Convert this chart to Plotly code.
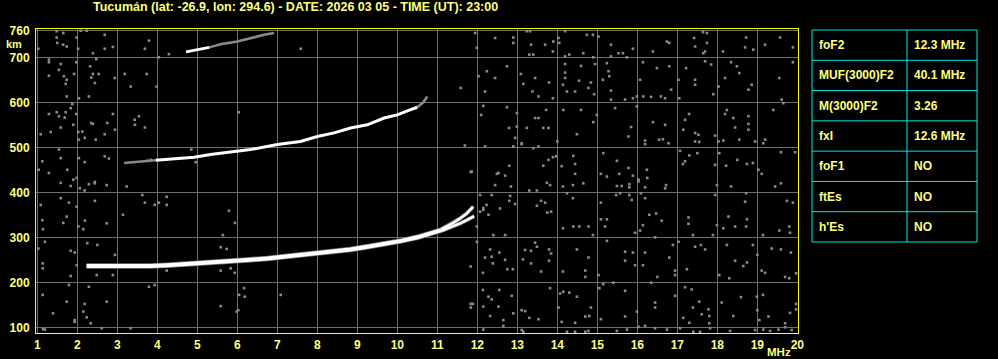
import plotly.graph_objects as go

# ---------------- data ----------------
title_text = "Tucumán (lat: -26.9, lon: 294.6) - DATE: 2026 03 05 - TIME (UT): 23:00"
freq_ticks = list(range(1, 21))
height_ticks = [100, 200, 300, 400, 500, 600, 700, 760]

# first-hop F2 echo (MHz, km)
f2_freq = [2.23, 2.6, 3.0, 3.4, 3.83, 4.25, 4.67, 5.1, 5.5, 5.9, 6.33, 6.75, 7.17, 7.6, 8.0,
           8.4, 8.83, 9.25, 9.67, 10.1, 10.5, 10.92, 11.1]
f2_height = [236, 235.5, 235, 235.5, 236, 238, 240, 242, 244, 247, 250, 253, 257, 260, 263,
             268, 273, 279, 285, 292, 300, 311, 316]
# split near the critical frequency (two magneto-ionic branches)
f2_upper_freq = [11.1, 11.4, 11.57, 11.735, 11.9]
f2_upper_height = [318, 332, 342, 353, 368]
f2_lower_freq = [11.1, 11.4, 11.57, 11.735, 11.92]
f2_lower_height = [314, 324, 331, 338, 347]

# second-hop echo
hop2_freq = [3.96, 4.5, 4.92, 5.33, 5.92, 6.33, 7.0, 7.58, 8.0, 8.42, 8.83, 9.25, 9.67, 10.0, 10.25, 10.5]
hop2_height = [471, 475, 478, 484, 491, 495, 506, 513, 524, 532, 543, 550, 565, 572, 581, 589]
hop2_faint_start_freq = [3.17, 3.5, 3.96]
hop2_faint_start_height = [465, 468, 471]
hop2_faint_end_freq = [10.5, 10.65, 10.75]
hop2_faint_end_height = [589, 600, 613]

# third-hop echo
hop3_freq = [4.72, 5.04, 5.3]
hop3_height = [712, 717, 722]
hop3_faint_freq = [5.3, 5.58, 6.0, 6.17, 6.67, 6.92]
hop3_faint_height = [722, 729, 735, 739, 750, 754]

# scattered noise returns (MHz, km)
noise_freq = [
    11.945, 11.99, 12.445, 12.90, 12.90, 13.24, 13.32, 13.345, 13.30, 13.40, 13.695, 13.90, 13.89, 14.03, 14.05,
    14.195, 14.195, 14.30, 14.65, 14.74, 14.89, 15.03, 14.90, 15.34, 15.34, 15.53, 15.64, 15.74, 15.89, 16.39,
    16.74, 16.80, 17.42, 17.445, 17.64, 17.74, 17.74, 17.695, 17.65, 18.14, 18.72, 18.695, 18.90, 19.195, 19.57, 19.89,
    12.03, 12.24, 12.445, 12.74, 12.195, 13.09, 13.15, 13.38, 13.445, 13.53, 13.795, 13.89, 14.195, 14.195, 14.195,
    14.14, 14.24, 14.445, 14.595, 14.545, 14.84, 14.78, 14.92, 14.945, 15.24, 15.28, 15.30, 15.14, 15.34, 15.34,
    15.695, 15.89, 15.99, 16.14, 16.07, 16.15, 16.345, 16.49, 16.59, 16.695, 16.80, 16.845, 17.03, 17.05, 17.22,
    17.445, 17.445, 17.695, 17.845, 17.90, 18.03, 18.195, 18.345, 18.49, 18.55, 18.78, 18.86, 19.55, 19.61, 19.65, 19.89,
    12.15, 12.095, 12.74, 12.99, 12.99, 12.795, 12.945, 13.11, 13.24, 13.445, 13.53, 13.65, 13.78, 13.72, 14.00,
    14.15, 14.49, 14.59, 14.90, 14.99, 15.445, 15.845, 15.78, 15.99, 16.39, 16.695, 16.195, 16.195, 16.545, 16.64,
    16.78, 17.15, 17.195, 17.295, 17.445, 17.53, 17.445, 17.55, 17.945, 18.03, 18.15, 18.24, 18.195, 18.40, 18.445,
    18.55, 18.78, 18.78, 18.78, 18.945, 19.195, 19.15, 19.40,
    12.195, 12.90, 13.40, 13.53, 13.11, 13.78, 13.89, 13.97, 13.65, 14.11, 14.40, 14.445, 14.445, 12.49, 12.53,
    12.695, 12.80, 15.15, 15.49, 15.78, 15.89, 16.24, 16.03, 16.25, 15.09, 15.24, 15.55, 17.07, 17.195, 17.30,
    17.50, 17.14, 17.945, 18.05, 18.22, 18.50, 18.74, 18.89, 19.03, 19.11, 19.59, 19.945, 11.86,
    12.445, 12.84, 13.30, 13.49, 13.74, 13.82, 14.14, 14.39, 14.65, 15.49, 15.61, 15.80, 15.80, 16.03, 16.195,
    16.72, 16.695, 17.99, 18.345, 19.445, 19.59,
    12.07, 12.36, 12.82, 12.945, 12.80, 13.49, 13.595, 13.695, 13.75, 13.845, 14.24, 14.39, 15.09, 15.47, 15.57,
    15.80, 15.86, 16.09, 16.195, 16.30, 16.47, 17.28, 17.945, 18.695, 18.72, 19.74, 19.89,
    12.15, 12.28, 12.57, 11.99, 12.40, 12.695, 14.14, 14.40, 14.55, 14.78, 14.89, 15.09, 15.24, 15.195, 15.945,
    16.07, 16.14, 16.445, 16.61, 17.28, 17.39, 17.99, 17.89, 18.15, 18.28, 18.445, 18.74, 18.72, 19.14, 19.55,
    19.80, 19.82,
    11.99, 12.32, 12.55, 12.36, 12.39, 12.195, 12.14, 12.695, 12.75, 12.89, 13.195, 13.34, 13.445, 13.49, 13.345,
    13.14, 13.595, 13.795, 13.845, 13.795, 14.49, 14.14, 14.70, 14.78, 14.70, 15.03, 15.24, 15.695, 15.695, 15.89,
    15.945, 16.14, 16.195, 16.50, 16.80, 16.89, 16.945, 16.945, 17.03, 17.24, 17.445, 17.59, 17.695, 18.05, 18.24,
    18.30, 18.445, 18.65, 18.74, 18.89, 19.00, 19.11, 19.195, 19.36, 19.59, 19.84, 19.695, 19.97, 19.80,
    12.14, 12.28, 12.36, 12.55, 12.86, 12.15, 11.89, 12.53, 12.32, 12.65, 12.90, 13.11, 13.195, 13.30, 13.53,
    13.82, 14.07, 14.15, 14.30, 14.49, 14.03, 14.11, 14.445, 14.70, 14.80, 14.84, 15.05, 15.15, 15.40, 15.695,
    15.99, 15.09, 15.695, 16.345, 16.445, 16.445, 16.945, 17.195, 17.36, 17.55, 17.39, 17.15, 17.30, 17.61, 17.78,
    17.80, 17.80, 18.11, 18.40, 18.59, 18.99, 19.14, 19.00, 19.05, 19.28, 19.82, 19.695, 19.97, 19.97,
    12.15, 12.65, 13.11, 13.15, 14.24, 14.445, 14.70, 14.78, 15.49, 15.74, 16.03, 16.195, 16.445, 16.74, 17.07,
    17.40, 17.57, 17.82, 18.32, 18.945, 19.15, 19.32, 19.53, 19.695, 19.86,
    1.485, 1.65, 2.085, 2.235, 2.685, 1.485, 1.50, 1.645, 1.735, 1.985, 1.025, 2.02, 2.39, 2.685, 2.89,
    3.79, 3.69, 4.29, 4.04, 7.585,
    1.29, 1.29, 1.585, 1.54, 1.29, 1.665, 1.735, 1.71, 1.92, 1.975, 2.32, 2.35, 2.39, 2.535, 2.44,
    2.475, 2.935, 3.185, 3.335, 3.735, 3.985, 1.735, 2.04, 2.29,
    1.875, 1.29, 1.485, 1.54, 1.71, 1.835, 1.975, 1.685, 1.085, 1.335, 1.585, 1.90, 2.025, 2.125, 2.04,
    2.185, 2.35, 2.39, 2.46, 2.685, 2.75, 2.89, 2.94, 3.435, 3.54, 3.44, 3.69, 6.035, 11.585,
    1.54, 1.125, 1.585, 2.185, 2.04, 2.685, 2.79, 3.75, 3.835, 4.85, 4.96, 1.035, 1.29, 1.75,
    1.985, 2.44, 1.90, 11.69, 11.835,
    1.585, 1.835, 2.065, 2.185, 2.29, 2.435, 2.735, 3.235, 1.585, 1.79, 1.985, 2.44, 3.625, 3.69, 3.935,
    4.04, 4.235, 4.235, 1.085, 1.125, 1.735, 1.65, 1.14, 2.025, 2.15, 2.19, 2.735, 3.14, 5.79, 5.94, 5.64,
    1.19, 1.025, 1.835, 1.935, 2.25, 2.50, 2.94, 1.135, 1.135, 1.985, 5.585, 5.735, 5.585, 5.835, 5.935,
    4.235, 2.485, 2.89, 1.835, 1.79, 2.29, 3.79, 3.935, 1.135, 1.735, 2.185, 2.735, 6.17, 6.045, 6.185,
    7.085, 5.585, 6.025, 5.985, 1.395, 2.15, 1.935, 1.935, 2.235, 2.335, 2.61, 3.335, 1.14, 1.19,
    11.835, 11.835, 11.835, 12.07, 12.15, 12.23,
]
noise_height = [
    754, 721, 743, 744, 732, 758, 758, 728, 706, 706, 728, 735, 713, 743, 732,
    758, 702, 706, 709, 750, 750, 746, 700, 728, 702, 709, 709, 700, 719, 713,
    735, 732, 743, 724, 756, 754, 732, 713, 709, 713, 744, 722, 717, 728, 744, 722,
    658, 669, 654, 680, 624, 663, 641, 624, 654, 613, 644, 609, 685, 666, 654,
    639, 624, 624, 681, 648, 644, 632, 618, 685, 687, 669, 658, 650, 626, 606,
    606, 609, 613, 689, 650, 613, 612, 676, 613, 609, 680, 628, 650, 609, 676,
    650, 639, 691, 684, 618, 635, 654, 689, 680, 665, 628, 639, 654, 606, 598, 689,
    592, 572, 589, 576, 546, 543, 521, 509, 543, 565, 565, 543, 543, 583, 513,
    583, 529, 583, 556, 572, 587, 545, 524, 591, 556, 550, 515, 507, 517, 518,
    509, 539, 561, 574, 532, 528, 513, 512, 526, 513, 515, 583, 574, 565, 544,
    517, 569, 552, 539, 513, 517, 509, 583,
    502, 502, 498, 502, 507, 472, 478, 480, 459, 458, 481, 463, 441, 441, 443,
    437, 459, 487, 470, 454, 437, 450, 428, 432, 441, 435, 441, 492, 469, 482,
    487, 463, 461, 487, 459, 472, 463, 465, 450, 441, 489, 489, 446,
    416, 413, 404, 404, 421, 416, 413, 416, 420, 414, 414, 418, 411, 424, 411,
    416, 409, 416, 413, 413, 420,
    394, 394, 392, 374, 381, 370, 381, 377, 355, 357, 398, 387, 377, 394, 398,
    394, 383, 398, 387, 350, 353, 344, 394, 379, 398, 381, 377,
    361, 350, 364, 324, 305, 305, 320, 324, 324, 324, 305, 340, 340, 324, 310,
    315, 327, 300, 337, 330, 305, 327, 305, 320, 346, 324, 340, 324, 305, 315,
    324, 310,
    290, 273, 266, 257, 242, 255, 221, 250, 229, 229, 272, 270, 288, 279, 242,
    251, 224, 273, 264, 248, 273, 224, 226, 255, 212, 216, 292, 268, 248, 266,
    238, 238, 266, 212, 255, 283, 226, 216, 290, 229, 279, 283, 273, 216, 283,
    209, 248, 236, 244, 283, 261, 226, 221, 275, 273, 266, 212, 220, 209,
    183, 168, 162, 183, 170, 146, 152, 146, 125, 116, 131, 138, 136, 121, 118,
    187, 175, 179, 177, 168, 144, 112, 110, 124, 125, 144, 187, 196, 199, 181,
    135, 118, 124, 199, 155, 144, 170, 189, 184, 157, 144, 121, 110, 129, 140,
    125, 109, 155, 125, 167, 168, 172, 138, 116, 124, 132, 109, 152, 140,
    95, 103, 94, 90, 90, 90, 90, 92, 92, 95, 101, 103, 98, 95, 98,
    90, 90, 98, 92, 94, 95, 92, 95, 100, 94,
    758, 754, 759, 759, 750, 744, 732, 728, 724, 744, 719, 719, 709, 719, 723,
    737, 719, 707, 700, 719,
    695, 689, 685, 672, 659, 658, 650, 641, 663, 689, 680, 655, 663, 663, 643,
    696, 654, 663, 635, 663, 635, 613, 609, 613,
    596, 574, 578, 569, 578, 587, 574, 566, 529, 534, 544, 550, 534, 535, 517,
    521, 554, 552, 517, 529, 554, 574, 539, 561, 569, 550, 544, 578, 632,
    495, 469, 476, 467, 476, 480, 475, 470, 472, 495, 467, 450, 443, 450,
    432, 423, 428, 504, 445,
    421, 414, 409, 404, 418, 420, 416, 413, 387, 377, 368, 381, 394, 377, 372,
    377, 390, 372, 372, 338, 346, 332, 318, 324, 318, 337, 331, 350, 359, 332, 305,
    290, 275, 270, 266, 287, 283, 261, 242, 231, 238, 278, 274, 226, 231, 221,
    226, 216, 216, 214, 194, 190, 190, 194, 172, 157, 152, 157, 187, 172, 168,
    172, 147, 138, 135, 131, 135, 116, 112, 122, 109, 98, 98, 96, 95,
    235, 152, 144, 357, 365, 372,
]

table_labels = ["foF2", "MUF(3000)F2", "M(3000)F2", "fxI", "foF1", "ftEs", "h'Es"]
table_values = ["12.3 MHz", "40.1 MHz", "3.26", "12.6 MHz", "NO", "NO", "NO"]

# ---------------- style ----------------
TXT = "#ffff80"
BORDER = "#ffff00"
GRID = "#6e6e6e"
NOISE = "#8a8a8a"
CYAN = "#00e8e8"
FONT = "Liberation Sans"

W, H = 998, 359
L, R, T, B = 36, 798, 29, 333


def px_x(p):
    return (p - L) / (R - L)


def px_y(p):
    return (B - p) / (B - T)


fig = go.Figure()

# noise
fig.add_trace(go.Scatter(x=noise_freq, y=noise_height, mode="markers",
                         marker=dict(symbol="square", size=2.6, color=NOISE, line=dict(width=0)),
                         hoverinfo="skip"))

# faint (grey) parts of echoes
for fx, fy in [(hop2_faint_start_freq, hop2_faint_start_height),
               (hop2_faint_end_freq, hop2_faint_end_height),
               (hop3_faint_freq, hop3_faint_height)]:
    fig.add_trace(go.Scatter(x=fx, y=fy, mode="lines",
                             line=dict(color=NOISE, width=2.5), hoverinfo="skip"))

# grey fringe of main echo
fig.add_trace(go.Scatter(x=f2_freq, y=f2_height, mode="lines",
                         line=dict(color="#7a7a7a", width=5.5), hoverinfo="skip"))
for fx, fy in [(f2_upper_freq, f2_upper_height), (f2_lower_freq, f2_lower_height)]:
    fig.add_trace(go.Scatter(x=fx, y=fy, mode="lines",
                             line=dict(color="#7a7a7a", width=4), hoverinfo="skip"))

# main echoes (white)
fig.add_trace(go.Scatter(x=f2_freq, y=f2_height, mode="lines",
                         line=dict(color="white", width=4), hoverinfo="skip"))
for fx, fy in [(f2_upper_freq, f2_upper_height), (f2_lower_freq, f2_lower_height)]:
    fig.add_trace(go.Scatter(x=fx, y=fy, mode="lines",
                             line=dict(color="white", width=2.5), hoverinfo="skip"))
fig.add_trace(go.Scatter(x=hop2_freq, y=hop2_height, mode="lines",
                         line=dict(color="white", width=3), hoverinfo="skip"))
fig.add_trace(go.Scatter(x=hop3_freq, y=hop3_height, mode="lines",
                         line=dict(color="white", width=3), hoverinfo="skip"))

x_lo = 1 + (L - 37.3) / 40
x_hi = 1 + (R - 37.3) / 40
y_lo = 100 + (327.3 - B) / 0.45
y_hi = 100 + (327.3 - T) / 0.45

tick_font = dict(family=FONT, size=12, color=TXT, weight="bold")

fig.update_xaxes(range=[x_lo, x_hi], tickvals=freq_ticks, ticktext=[str(v) for v in freq_ticks],
                 showgrid=True, gridcolor=GRID, gridwidth=1, zeroline=False, automargin=False,
                 showline=True, mirror=True, linecolor=BORDER, linewidth=1,
                 ticks="outside", ticklen=1, tickcolor="black", tickfont=tick_font)
fig.update_yaxes(range=[y_lo, y_hi], tickvals=height_ticks, ticktext=[str(v) for v in height_ticks],
                 showgrid=True, gridcolor=GRID, gridwidth=1, zeroline=False, automargin=False,
                 showline=True, mirror=True, linecolor=BORDER, linewidth=1,
                 ticks="outside", ticklen=3, tickcolor="black", tickfont=tick_font)

annotations = [
    dict(text=title_text, xref="paper", yref="paper", x=px_x(295), y=px_y(7),
         xanchor="center", yanchor="middle", showarrow=False,
         font=dict(family=FONT, size=12.5, color=TXT, weight="bold")),
    dict(text="km", xref="paper", yref="paper", x=px_x(14), y=px_y(44),
         xanchor="center", yanchor="middle", showarrow=False,
         font=dict(family=FONT, size=11, color=TXT, weight="bold")),
    dict(text="MHz", xref="paper", yref="paper", x=px_x(779), y=px_y(352),
         xanchor="center", yanchor="middle", showarrow=False,
         font=dict(family=FONT, size=11.5, color=TXT, weight="bold")),
]

shapes = []
t_left, t_right, t_div, t_top, t_bot = 812, 977, 907, 30, 242
n_rows = len(table_labels)
row_h = (t_bot - t_top) / n_rows
shapes.append(dict(type="rect", xref="paper", yref="paper",
                   x0=px_x(t_left), x1=px_x(t_right), y0=px_y(t_bot), y1=px_y(t_top),
                   line=dict(color=CYAN, width=1), fillcolor="rgba(0,0,0,0)"))
shapes.append(dict(type="line", xref="paper", yref="paper",
                   x0=px_x(t_div), x1=px_x(t_div), y0=px_y(t_bot), y1=px_y(t_top),
                   line=dict(color=CYAN, width=1)))
for i in range(1, n_rows):
    yy = t_top + i * row_h
    shapes.append(dict(type="line", xref="paper", yref="paper",
                       x0=px_x(t_left), x1=px_x(t_right), y0=px_y(yy), y1=px_y(yy),
                       line=dict(color=CYAN, width=1)))
for i, (lab, val) in enumerate(zip(table_labels, table_values)):
    yc = t_top + (i + 0.5) * row_h
    annotations.append(dict(text=lab, xref="paper", yref="paper", x=px_x(817), y=px_y(yc),
                            xanchor="left", yanchor="middle", showarrow=False,
                            font=dict(family=FONT, size=12, color=TXT, weight="bold")))
    annotations.append(dict(text=val, xref="paper", yref="paper", x=px_x(912), y=px_y(yc),
                            xanchor="left", yanchor="middle", showarrow=False,
                            font=dict(family=FONT, size=12, color=TXT, weight="bold")))

fig.update_layout(width=W, height=H, margin=dict(l=L, r=W - R, t=T, b=H - B, pad=0, autoexpand=False),
                  paper_bgcolor="black", plot_bgcolor="black", showlegend=False,
                  annotations=annotations, shapes=shapes)

fig.write_html("out.html")
